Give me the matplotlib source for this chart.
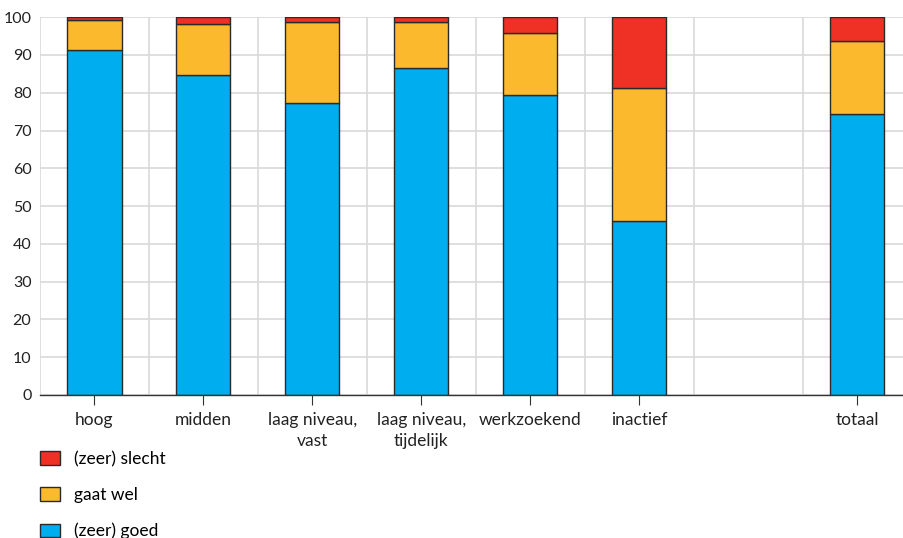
import matplotlib.pyplot as plt
from matplotlib.patches import Patch

categories = ["hoog", "midden", "laag niveau,\nvast", "laag niveau,\ntijdelijk",
              "werkzoekend", "inactief", "", "totaal"]
goed = [91.3, 84.7, 77.2, 86.5, 79.4, 46.0, 0, 74.3]
gaat_wel = [7.9, 13.4, 21.5, 12.2, 16.4, 35.2, 0, 19.4]
slecht = [0.8, 1.9, 1.3, 1.3, 4.2, 18.8, 0, 6.3]

c_goed = "#00AEEF"
c_wel = "#FBBA2E"
c_slecht = "#EE3124"

plt.rcParams["font.family"] = ["Lato", "DejaVu Sans"]

fig = plt.figure(figsize=(9.04, 5.38), dpi=100)
ax = fig.add_axes([0.044, 0.266, 0.956, 0.702])

x = list(range(len(categories)))
show = [i for i in x if categories[i]]
kw = dict(width=0.5, edgecolor="#2a2a2a", linewidth=1.0, zorder=3)
ax.bar([x[i] for i in show], [goed[i] for i in show], color=c_goed, **kw)
ax.bar([x[i] for i in show], [gaat_wel[i] for i in show],
       bottom=[goed[i] for i in show], color=c_wel, **kw)
ax.bar([x[i] for i in show], [slecht[i] for i in show],
       bottom=[goed[i] + gaat_wel[i] for i in show], color=c_slecht, **kw)

ax.set_xlim(-0.5, 7.43)
ax.set_ylim(0, 100)
ax.set_yticks(range(0, 101, 10))
ax.set_xticks(show)
ax.set_xticklabels([categories[i] for i in show], fontsize=12.5, color="#222222")
for lbl in ax.get_xticklabels():
    lbl.set_linespacing(1.45)
ax.set_xticks([i - 0.5 for i in x], minor=True)
ax.tick_params(axis="x", which="major", length=7, width=0.8, color="#333333", pad=5)
ax.tick_params(axis="x", which="minor", length=0)
ax.tick_params(axis="y", length=0, labelsize=11.5, labelcolor="#222222", pad=6)

ax.grid(axis="y", color="#d9d9d9", linewidth=1.2, zorder=0)
ax.grid(axis="x", which="minor", color="#d9d9d9", linewidth=1.2, zorder=0)
for s in ["top", "right", "left"]:
    ax.spines[s].set_visible(False)
ax.spines["bottom"].set_color("#333333")
ax.spines["bottom"].set_linewidth(1.0)
ax.spines["bottom"].set_zorder(4)

handles = [Patch(facecolor=c_slecht, edgecolor="#2a2a2a", label="(zeer) slecht"),
           Patch(facecolor=c_wel, edgecolor="#2a2a2a", label="gaat wel"),
           Patch(facecolor=c_goed, edgecolor="#2a2a2a", label="(zeer) goed")]
fig.legend(handles=handles, loc="upper left", bbox_to_anchor=(0.044, 0.162),
           frameon=False, fontsize=12.5, handlelength=1.15, handleheight=0.8,
           labelspacing=1.15, handletextpad=0.8, borderaxespad=0, borderpad=0)

fig.savefig("out.png", dpi=100)
